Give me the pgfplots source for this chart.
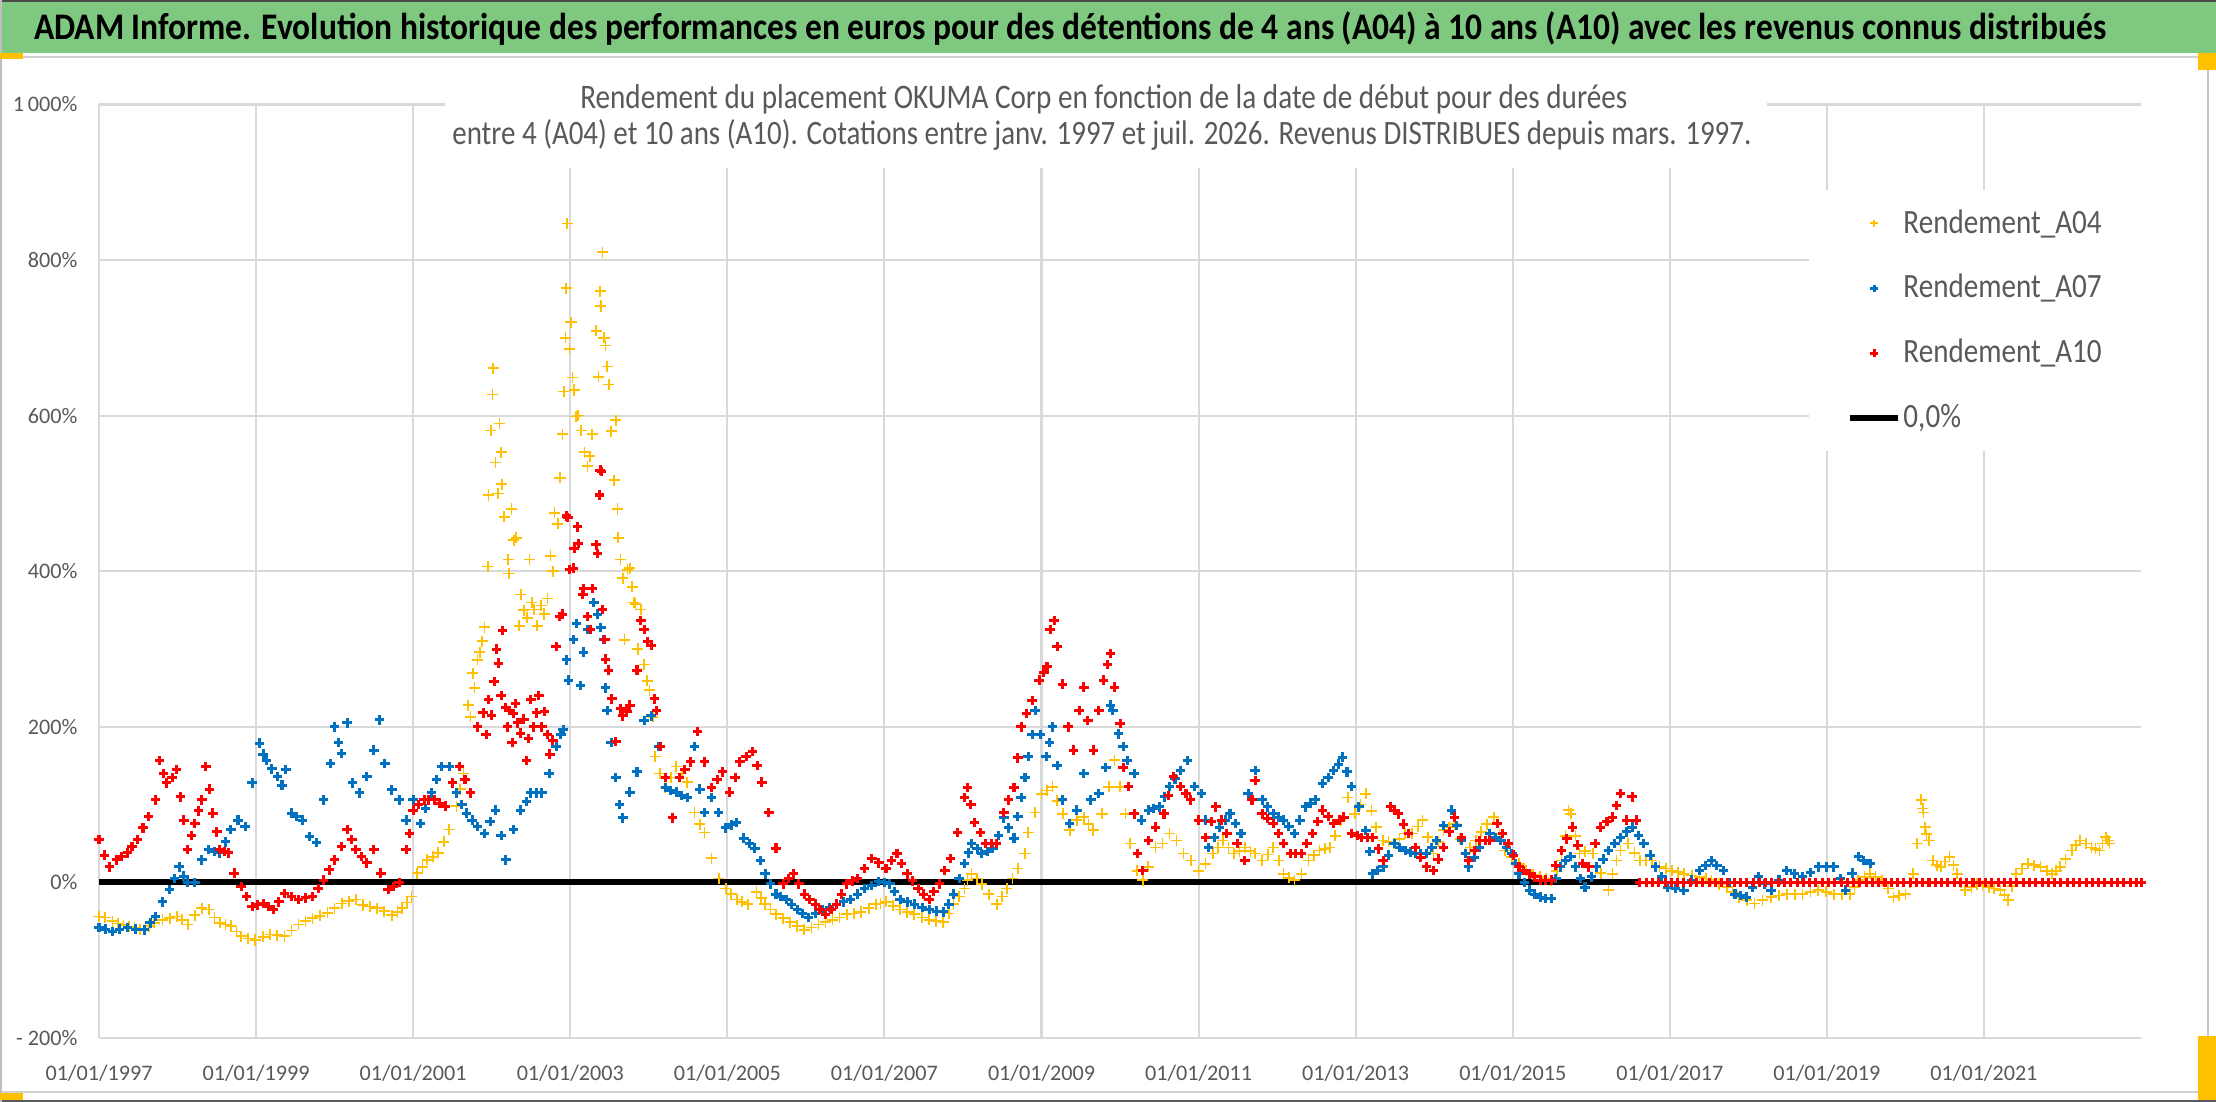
\documentclass[border=0pt]{standalone}
\usepackage{fontspec}
\setmainfont{Carlito}
\usepackage{graphicx}
\usepackage{pgfplots}
\pgfplotsset{compat=1.18}
\definecolor{ay}{HTML}{FFC000}
\definecolor{ab}{HTML}{0070C0}
\definecolor{ar}{HTML}{FF0000}
\definecolor{tg}{HTML}{595959}
\definecolor{gr}{HTML}{D9D9D9}
\definecolor{band}{RGB}{127,200,128}
\begin{document}
\begin{tikzpicture}[x=1pt,y=1pt]
\useasboundingbox (0,0) rectangle (800,397.83);
\fill[white] (0,0) rectangle (800,397.83);
\fill[band] (0,378.7) rectangle (800,397.83);
\draw[gray!60!black, line width=0.6pt] (0,397.5) -- (800,397.5);
\draw[gray!35, line width=0.9pt] (0,377.2) -- (800,377.2);
\draw[gray!45, line width=0.5pt] (797.1,3.6) -- (797.1,377.2);
\draw[gray!35, line width=0.8pt] (0,3.6) -- (800,3.6);
\draw[gray!70!black, line width=0.6pt] (0,0.4) -- (800,0.4);
\draw[gray!50, line width=0.5pt] (0.3,0) -- (0.3,397.8);
\fill[ay] (0,376.6) rectangle (8.3,378.7);
\fill[ay] (0,0.8) rectangle (8.3,3.2);
\fill[ay] (793.5,372.6) rectangle (800,378.7);
\fill[ay] (793.5,0.8) rectangle (800,23.8);
\node[anchor=base, inner sep=0pt] at (386.3,383.4) {\scalebox{1}[1.12]{\resizebox{748pt}{!}{\fontsize{13}{15}\selectfont\bfseries ADAM Informe. Evolution historique des performances en euros pour des détentions de 4 ans (A04) à 10 ans (A10) avec les revenus connus distribués}}};
\begin{axis}[
  at={(35.74pt,23.1pt)}, anchor=south west,
  scale only axis, width=737.2pt, height=337pt,
  xmin=1997, xmax=2023, ymin=-200, ymax=1000,
  axis line style={draw=none},
  xtick={1997,1999,2001,2003,2005,2007,2009,2011,2013,2015,2017,2019,2021},
  xticklabels={01/01/1997,01/01/1999,01/01/2001,01/01/2003,01/01/2005,01/01/2007,01/01/2009,01/01/2011,01/01/2013,01/01/2015,01/01/2017,01/01/2019,01/01/2021},
  ytick={-200,0,200,400,600,800,1000},
  yticklabels={- 200\%,0\%,200\%,400\%,600\%,800\%,1\,000\%},
  major tick length=0pt,
  grid=major,
  major grid style={gr, line width=0.75pt},
  tick label style={font=\fontsize{8}{10}\selectfont, text=tg},
  xticklabel style={anchor=base, inner sep=0pt, yshift=-15.2pt},
  yticklabel style={anchor=east, inner sep=0pt, xshift=-7.6pt},
  legend style={at={(0.8369,0.909)}, anchor=north west, fill=white, draw=none,
    font=\fontsize{10.5}{12}\selectfont, text=tg, inner xsep=14pt, inner ysep=6pt,
    row sep=11.4pt, nodes={inner sep=1pt}},
  legend cell align=left,
  legend image post style={mark size=1.3pt},
]
\addplot[only marks, mark=+, mark size=2.0pt, color=ay, mark options={line width=0.6pt}] coordinates {
(1997.00,-44) (1997.08,-45) (1997.17,-50) (1997.24,-53) (1997.31,-55) (1997.38,-57) (1997.45,-58) (1997.52,-60) (1997.58,-61) (1997.64,-56) (1997.70,-52) (1997.81,-48) (1997.90,-46) (1997.99,-44) (1998.06,-48) (1998.13,-54) (1998.22,-42) (1998.31,-33) (1998.40,-35) (1998.47,-45) (1998.54,-52) (1998.61,-54) (1998.68,-56) (1998.75,-63) (1998.81,-69) (1998.90,-72) (1998.99,-74) (1999.09,-70) (1999.18,-67) (1999.27,-68) (1999.36,-69) (1999.45,-62) (1999.54,-54) (1999.63,-50) (1999.72,-46) (1999.81,-43) (1999.91,-39) (2000.00,-33) (2000.09,-27) (2000.18,-24) (2000.27,-22) (2000.36,-29) (2000.45,-31) (2000.54,-33) (2000.63,-37) (2000.73,-42) (2000.80,-38) (2000.86,-33) (2000.92,-26) (2000.98,-18) (2001.05,12) (2001.12,20) (2001.18,29) (2001.25,33) (2001.32,38) (2001.39,52) (2001.46,68) (2001.55,98) (2001.60,120) (2001.64,140) (2001.70,228) (2001.73,213) (2001.76,269) (2001.78,250) (2001.82,286) (2001.85,296) (2001.88,310) (2001.91,328) (2001.95,406) (2001.96,498) (2001.99,581) (2002.01,627) (2002.02,661) (2002.05,540) (2002.08,500) (2002.10,590) (2002.12,553) (2002.13,512) (2002.16,470) (2002.21,415) (2002.22,397) (2002.25,480) (2002.28,440) (2002.31,443) (2002.35,330) (2002.37,370) (2002.41,350) (2002.45,340) (2002.48,415) (2002.51,360) (2002.54,351) (2002.58,330) (2002.63,356) (2002.67,345) (2002.71,365) (2002.75,420) (2002.78,400) (2002.80,475) (2002.84,461) (2002.87,520) (2002.90,576) (2002.92,631) (2002.94,700) (2002.95,764) (2002.96,847) (2002.99,686) (2003.01,720) (2003.03,649) (2003.05,633) (2003.07,599) (2003.10,600) (2003.14,581) (2003.18,553) (2003.22,535) (2003.25,548) (2003.28,576) (2003.33,709) (2003.36,650) (2003.38,760) (2003.39,741) (2003.41,810) (2003.43,700) (2003.45,690) (2003.47,663) (2003.49,640) (2003.52,580) (2003.56,517) (2003.58,594) (2003.60,480) (2003.61,443) (2003.64,415) (2003.67,391) (2003.69,312) (2003.73,402) (2003.76,404) (2003.79,380) (2003.81,360) (2003.83,358) (2003.86,300) (2003.90,351) (2003.94,280) (2003.98,259) (2004.01,247) (2004.05,213) (2004.08,162) (2004.14,140) (2004.21,122) (2004.28,135) (2004.35,149) (2004.42,140) (2004.49,129) (2004.58,90) (2004.65,75) (2004.71,64) (2004.80,31) (2004.89,5) (2004.98,-8) (2005.05,-15) (2005.12,-22) (2005.19,-25) (2005.26,-28) (2005.37,-12) (2005.43,-20) (2005.48,-28) (2005.55,-35) (2005.62,-41) (2005.71,-46) (2005.80,-51) (2005.89,-56) (2005.98,-61) (2006.07,-58) (2006.16,-54) (2006.25,-51) (2006.34,-48) (2006.43,-45) (2006.52,-41) (2006.61,-40) (2006.70,-38) (2006.80,-33) (2006.89,-28) (2006.95,-27) (2007.02,-25) (2007.11,-30) (2007.20,-35) (2007.29,-38) (2007.38,-41) (2007.48,-45) (2007.57,-48) (2007.66,-50) (2007.75,-51) (2007.82,-40) (2007.88,-28) (2007.95,-18) (2008.02,-8) (2008.06,3) (2008.11,11) (2008.18,5) (2008.24,-2) (2008.33,-15) (2008.43,-28) (2008.50,-18) (2008.56,-8) (2008.63,5) (2008.70,18) (2008.79,37) (2008.83,64) (2008.92,90) (2009.00,114) (2009.07,118) (2009.14,123) (2009.20,105) (2009.27,88) (2009.36,67) (2009.45,80) (2009.54,84) (2009.60,75) (2009.66,67) (2009.77,88) (2009.86,123) (2009.93,157) (2010.00,123) (2010.07,88) (2010.13,50) (2010.22,15) (2010.29,3) (2010.36,20) (2010.45,45) (2010.54,50) (2010.63,63) (2010.72,54) (2010.81,37) (2010.90,28) (2011.00,15) (2011.09,24) (2011.18,37) (2011.25,45) (2011.31,54) (2011.38,45) (2011.45,37) (2011.52,40) (2011.59,45) (2011.66,40) (2011.72,37) (2011.81,28) (2011.88,36) (2011.95,45) (2012.02,28) (2012.08,11) (2012.15,6) (2012.22,3) (2012.31,11) (2012.40,28) (2012.47,35) (2012.54,41) (2012.61,43) (2012.67,45) (2012.74,60) (2012.81,80) (2012.90,109) (2012.99,88) (2013.06,100) (2013.13,114) (2013.20,92) (2013.26,71) (2013.35,54) (2013.42,52) (2013.49,50) (2013.56,56) (2013.63,63) (2013.72,63) (2013.79,72) (2013.85,80) (2013.92,58) (2013.99,37) (2014.05,52) (2014.12,67) (2014.19,71) (2014.26,75) (2014.33,56) (2014.40,37) (2014.46,45) (2014.53,54) (2014.60,65) (2014.67,75) (2014.76,84) (2014.83,62) (2014.90,41) (2014.99,33) (2015.08,24) (2015.17,15) (2015.26,10) (2015.35,7) (2015.42,5) (2015.49,3) (2015.56,15) (2015.62,28) (2015.67,60) (2015.71,93) (2015.74,88) (2015.80,60) (2015.85,37) (2015.92,40) (2016.02,37) (2016.12,12) (2016.22,-10) (2016.27,11) (2016.32,28) (2016.37,41) (2016.47,50) (2016.55,38) (2016.62,28) (2016.70,28) (2016.77,28) (2016.87,20) (2016.95,18) (2017.03,15) (2017.10,13) (2017.18,11) (2017.28,9) (2017.38,7) (2017.46,5) (2017.53,3) (2017.63,-2) (2017.73,-6) (2017.80,-12) (2017.88,-19) (2017.98,-23) (2018.08,-27) (2018.18,-23) (2018.29,-19) (2018.39,-17) (2018.49,-15) (2018.59,-15) (2018.69,-15) (2018.79,-12) (2018.89,-10) (2018.99,-12) (2019.09,-15) (2019.19,-15) (2019.29,-15) (2019.35,-6) (2019.40,3) (2019.48,7) (2019.55,11) (2019.62,7) (2019.70,3) (2019.78,-8) (2019.85,-19) (2019.92,-17) (2020.00,-15) (2020.06,0) (2020.10,11) (2020.15,50) (2020.20,106) (2020.22,95) (2020.23,90) (2020.25,71) (2020.27,62) (2020.30,54) (2020.35,28) (2020.40,22) (2020.45,20) (2020.50,27) (2020.56,33) (2020.61,22) (2020.66,11) (2020.71,0) (2020.76,-10) (2020.84,-6) (2020.91,-2) (2020.98,-4) (2021.06,-6) (2021.13,-8) (2021.21,-10) (2021.26,-16) (2021.31,-23) (2021.36,-5) (2021.41,11) (2021.48,18) (2021.56,24) (2021.64,22) (2021.72,20) (2021.80,15) (2021.87,11) (2021.92,15) (2021.97,20) (2022.04,30) (2022.12,41) (2022.17,48) (2022.22,54) (2022.30,50) (2022.37,45) (2022.42,43) (2022.47,41) (2022.51,50) (2022.55,58) (2022.58,54) (2022.60,50)
};
\addlegendentry{\scalebox{1}[1.17]{Rendement\_A04}}
\addplot[only marks, mark=+, mark size=1.7pt, color=ab, mark options={line width=1.1pt}] coordinates {
(1997.00,-58) (1997.08,-60) (1997.17,-63) (1997.26,-60) (1997.36,-58) (1997.47,-60) (1997.58,-61) (1997.65,-52) (1997.72,-44) (1997.81,-25) (1997.90,-9) (1997.96,5) (1998.02,20) (1998.08,8) (1998.13,0) (1998.22,0) (1998.31,29) (1998.40,42) (1998.47,40) (1998.54,38) (1998.61,52) (1998.68,68) (1998.77,80) (1998.86,72) (1998.95,128) (1999.04,179) (1999.09,165) (1999.13,157) (1999.20,146) (1999.27,136) (1999.33,125) (1999.38,145) (1999.45,89) (1999.52,85) (1999.59,80) (1999.68,59) (1999.77,51) (1999.86,106) (1999.95,153) (2000.00,200) (2000.05,180) (2000.09,166) (2000.16,205) (2000.23,128) (2000.32,115) (2000.41,136) (2000.50,170) (2000.57,209) (2000.64,153) (2000.73,119) (2000.82,106) (2000.91,80) (2001.00,106) (2001.09,76) (2001.16,95) (2001.23,115) (2001.30,132) (2001.36,149) (2001.46,149) (2001.55,115) (2001.62,100) (2001.68,89) (2001.75,80) (2001.82,72) (2001.91,63) (2001.98,78) (2002.05,93) (2002.12,60) (2002.18,29) (2002.28,68) (2002.37,93) (2002.44,104) (2002.50,115) (2002.57,115) (2002.64,115) (2002.73,140) (2002.82,175) (2002.88,190) (2002.91,196) (2002.95,286) (2002.98,260) (2003.04,312) (2003.08,333) (2003.13,253) (2003.17,296) (2003.22,325) (2003.30,360) (2003.35,345) (2003.39,328) (2003.42,312) (2003.45,250) (2003.47,221) (2003.52,180) (2003.58,135) (2003.63,100) (2003.67,83) (2003.76,116) (2003.85,142) (2003.94,208) (2004.03,214) (2004.12,175) (2004.21,122) (2004.28,118) (2004.35,116) (2004.42,112) (2004.49,109) (2004.58,175) (2004.65,120) (2004.71,90) (2004.80,109) (2004.89,90) (2004.98,70) (2005.05,74) (2005.12,77) (2005.21,57) (2005.28,50) (2005.35,44) (2005.42,28) (2005.48,11) (2005.55,-2) (2005.62,-15) (2005.68,-18) (2005.75,-22) (2005.82,-28) (2005.89,-35) (2005.96,-40) (2006.03,-45) (2006.12,-40) (2006.21,-35) (2006.30,-32) (2006.39,-28) (2006.48,-25) (2006.57,-22) (2006.66,-15) (2006.75,-8) (2006.84,-4) (2006.93,1) (2007.00,0) (2007.07,-2) (2007.13,-12) (2007.20,-22) (2007.29,-25) (2007.38,-28) (2007.48,-32) (2007.57,-35) (2007.66,-37) (2007.75,-38) (2007.82,-28) (2007.88,-15) (2007.95,5) (2008.02,24) (2008.07,38) (2008.11,50) (2008.18,43) (2008.24,37) (2008.31,40) (2008.38,44) (2008.45,60) (2008.52,83) (2008.58,70) (2008.65,57) (2008.70,85) (2008.74,109) (2008.79,135) (2008.83,162) (2008.88,190) (2008.92,221) (2008.99,190) (2009.06,162) (2009.10,180) (2009.14,200) (2009.20,150) (2009.27,106) (2009.36,76) (2009.45,93) (2009.54,140) (2009.63,106) (2009.73,114) (2009.82,148) (2009.88,228) (2009.91,221) (2009.98,191) (2010.04,175) (2010.09,157) (2010.18,140) (2010.27,80) (2010.36,93) (2010.43,95) (2010.50,97) (2010.57,110) (2010.63,123) (2010.70,133) (2010.77,144) (2010.86,157) (2010.95,123) (2011.04,114) (2011.09,80) (2011.13,45) (2011.20,58) (2011.27,71) (2011.34,80) (2011.40,88) (2011.47,76) (2011.54,63) (2011.63,114) (2011.72,144) (2011.81,106) (2011.88,97) (2011.95,88) (2012.02,84) (2012.08,80) (2012.15,72) (2012.22,63) (2012.29,80) (2012.36,97) (2012.43,102) (2012.49,106) (2012.58,127) (2012.65,135) (2012.72,144) (2012.78,152) (2012.83,161) (2012.89,142) (2012.95,123) (2013.04,97) (2013.13,67) (2013.18,40) (2013.22,11) (2013.28,15) (2013.35,20) (2013.42,35) (2013.49,50) (2013.56,45) (2013.63,41) (2013.70,39) (2013.76,37) (2013.83,37) (2013.90,37) (2013.97,45) (2014.03,54) (2014.12,73) (2014.22,93) (2014.29,73) (2014.35,54) (2014.40,37) (2014.44,20) (2014.51,32) (2014.58,45) (2014.65,54) (2014.71,63) (2014.78,58) (2014.85,54) (2014.92,45) (2014.99,37) (2015.04,24) (2015.08,11) (2015.15,0) (2015.21,-10) (2015.28,-15) (2015.35,-19) (2015.42,-21) (2015.49,-21) (2015.55,5) (2015.61,20) (2015.67,28) (2015.74,33) (2015.80,20) (2015.86,5) (2015.92,-6) (2016.00,7) (2016.07,20) (2016.15,30) (2016.22,41) (2016.30,50) (2016.37,58) (2016.45,65) (2016.52,71) (2016.60,60) (2016.67,50) (2016.75,35) (2016.82,20) (2016.90,7) (2016.97,-6) (2017.07,-8) (2017.18,-10) (2017.28,3) (2017.38,15) (2017.46,22) (2017.53,28) (2017.60,22) (2017.68,15) (2017.76,0) (2017.83,-15) (2017.90,-17) (2017.98,-19) (2018.05,-6) (2018.13,7) (2018.21,-2) (2018.29,-10) (2018.39,3) (2018.49,15) (2018.59,11) (2018.69,7) (2018.79,13) (2018.89,20) (2018.99,20) (2019.09,20) (2019.17,5) (2019.24,-10) (2019.32,12) (2019.40,33) (2019.47,28) (2019.55,24)
};
\addlegendentry{\scalebox{1}[1.17]{Rendement\_A07}}
\addplot[only marks, mark=+, mark size=1.7pt, color=ar, mark options={line width=1.1pt}] coordinates {
(1997.00,55) (1997.07,35) (1997.13,20) (1997.22,29) (1997.29,33) (1997.36,38) (1997.42,46) (1997.49,55) (1997.56,70) (1997.63,85) (1997.72,106) (1997.77,157) (1997.82,140) (1997.86,128) (1997.93,135) (1997.99,145) (1998.04,110) (1998.08,80) (1998.13,42) (1998.18,60) (1998.22,76) (1998.27,92) (1998.31,106) (1998.36,149) (1998.41,120) (1998.45,89) (1998.50,65) (1998.54,42) (1998.60,40) (1998.65,38) (1998.72,12) (1998.81,-5) (1998.88,-18) (1998.95,-31) (1999.02,-29) (1999.09,-27) (1999.16,-31) (1999.22,-35) (1999.29,-25) (1999.36,-14) (1999.45,-18) (1999.54,-22) (1999.63,-20) (1999.72,-18) (1999.79,-8) (1999.86,3) (1999.93,16) (2000.00,29) (2000.09,46) (2000.16,68) (2000.22,55) (2000.27,42) (2000.34,33) (2000.41,25) (2000.50,42) (2000.59,12) (2000.68,-9) (2000.75,-5) (2000.82,0) (2000.91,42) (2000.95,63) (2001.00,93) (2001.07,100) (2001.14,106) (2001.20,106) (2001.27,106) (2001.34,102) (2001.41,98) (2001.50,128) (2001.59,149) (2001.66,132) (2001.73,115) (2001.82,200) (2001.89,218) (2001.93,190) (2001.96,235) (2002.00,215) (2002.03,258) (2002.06,300) (2002.09,282) (2002.12,240) (2002.14,324) (2002.18,225) (2002.20,200) (2002.23,221) (2002.26,180) (2002.28,217) (2002.30,230) (2002.33,205) (2002.37,192) (2002.41,210) (2002.44,157) (2002.47,185) (2002.50,235) (2002.53,200) (2002.57,218) (2002.60,240) (2002.64,200) (2002.67,220) (2002.71,190) (2002.74,165) (2002.78,183) (2002.82,303) (2002.86,342) (2002.90,345) (2002.95,471) (2002.97,469) (2002.99,402) (2003.04,404) (2003.05,429) (2003.09,457) (2003.10,436) (2003.16,370) (2003.17,378) (2003.22,342) (2003.26,325) (2003.28,378) (2003.33,434) (2003.35,423) (2003.37,498) (2003.38,530) (2003.40,528) (2003.41,351) (2003.44,312) (2003.45,287) (2003.49,273) (2003.53,236) (2003.58,181) (2003.64,223) (2003.67,214) (2003.72,220) (2003.76,228) (2003.85,273) (2003.90,337) (2003.94,325) (2003.98,310) (2004.03,305) (2004.07,236) (2004.10,221) (2004.15,175) (2004.21,135) (2004.30,83) (2004.39,135) (2004.46,145) (2004.53,155) (2004.62,194) (2004.71,155) (2004.80,122) (2004.87,132) (2004.94,142) (2005.03,116) (2005.10,135) (2005.16,155) (2005.24,162) (2005.32,168) (2005.38,150) (2005.44,129) (2005.53,90) (2005.62,44) (2005.71,-2) (2005.78,5) (2005.84,11) (2005.91,-2) (2005.98,-15) (2006.05,-22) (2006.12,-28) (2006.18,-35) (2006.25,-41) (2006.32,-35) (2006.39,-28) (2006.45,-15) (2006.52,-2) (2006.59,2) (2006.66,5) (2006.75,18) (2006.84,31) (2006.93,25) (2007.02,18) (2007.09,28) (2007.16,37) (2007.22,24) (2007.29,11) (2007.36,2) (2007.43,-8) (2007.50,-15) (2007.57,-22) (2007.63,-12) (2007.70,-2) (2007.77,15) (2007.84,31) (2007.93,64) (2008.02,109) (2008.06,122) (2008.10,100) (2008.15,77) (2008.22,64) (2008.29,50) (2008.36,50) (2008.43,50) (2008.52,90) (2008.58,106) (2008.65,122) (2008.70,160) (2008.74,200) (2008.81,217) (2008.88,234) (2008.97,260) (2009.03,270) (2009.07,277) (2009.11,325) (2009.16,337) (2009.20,303) (2009.27,255) (2009.34,200) (2009.41,170) (2009.48,221) (2009.54,251) (2009.59,208) (2009.66,170) (2009.73,221) (2009.79,260) (2009.84,280) (2009.88,294) (2009.93,251) (2010.00,204) (2010.04,148) (2010.11,123) (2010.18,88) (2010.22,37) (2010.29,15) (2010.36,54) (2010.45,71) (2010.56,88) (2010.62,112) (2010.68,136) (2010.77,123) (2010.84,114) (2010.90,106) (2011.00,80) (2011.09,58) (2011.16,78) (2011.22,97) (2011.29,80) (2011.36,63) (2011.49,50) (2011.59,28) (2011.68,106) (2011.72,131) (2011.81,88) (2011.88,82) (2011.95,76) (2012.02,63) (2012.08,50) (2012.17,37) (2012.24,37) (2012.31,37) (2012.38,50) (2012.45,63) (2012.52,78) (2012.58,93) (2012.65,85) (2012.72,76) (2012.79,80) (2012.85,84) (2012.95,63) (2013.02,60) (2013.08,58) (2013.15,58) (2013.22,58) (2013.29,43) (2013.35,28) (2013.44,97) (2013.49,93) (2013.54,88) (2013.61,75) (2013.67,63) (2013.76,45) (2013.83,32) (2013.90,20) (2013.99,15) (2014.05,30) (2014.12,45) (2014.19,65) (2014.26,84) (2014.35,58) (2014.44,28) (2014.51,41) (2014.58,54) (2014.65,54) (2014.71,54) (2014.80,76) (2014.87,63) (2014.94,50) (2015.01,35) (2015.08,20) (2015.14,15) (2015.21,11) (2015.28,7) (2015.35,3) (2015.42,3) (2015.49,3) (2015.55,22) (2015.62,41) (2015.69,56) (2015.76,71) (2015.83,48) (2015.89,24) (2015.97,20) (2016.05,50) (2016.12,71) (2016.20,78) (2016.27,84) (2016.32,99) (2016.37,114) (2016.45,80) (2016.52,110) (2016.57,80)
(2016.62,0) (2016.70,0) (2016.78,0) (2016.86,0) (2016.94,0) (2017.02,0) (2017.10,0) (2017.18,0) (2017.26,0) (2017.34,0) (2017.42,0) (2017.50,0) (2017.58,0) (2017.66,0) (2017.74,0) (2017.82,0) (2017.90,0) (2017.98,0) (2018.06,0) (2018.14,0) (2018.22,0) (2018.30,0) (2018.38,0) (2018.46,0) (2018.54,0) (2018.62,0) (2018.70,0) (2018.78,0) (2018.86,0) (2018.94,0) (2019.02,0) (2019.10,0) (2019.18,0) (2019.26,0) (2019.34,0) (2019.42,0) (2019.50,0) (2019.58,0) (2019.66,0) (2019.74,0) (2019.82,0) (2019.90,0) (2019.98,0) (2020.06,0) (2020.14,0) (2020.22,0) (2020.30,0) (2020.38,0) (2020.46,0) (2020.54,0) (2020.62,0) (2020.70,0) (2020.78,0) (2020.86,0) (2020.94,0) (2021.02,0) (2021.10,0) (2021.18,0) (2021.26,0) (2021.34,0) (2021.42,0) (2021.50,0) (2021.58,0) (2021.66,0) (2021.74,0) (2021.82,0) (2021.90,0) (2021.98,0) (2022.06,0) (2022.14,0) (2022.22,0) (2022.30,0) (2022.38,0) (2022.46,0) (2022.54,0) (2022.62,0) (2022.70,0) (2022.78,0) (2022.86,0) (2022.94,0) (2023.00,0)
};
\addlegendentry{\scalebox{1}[1.17]{Rendement\_A10}}
\addplot[black, line width=2.2pt, no marks] coordinates {(1997,0) (2016.6,0)};
\addlegendentry{\scalebox{1}[1.17]{0,0\%}}
\end{axis}
\fill[white] (160.6,337.2) rectangle (637.9,369.9);
\node[anchor=base, inner sep=0pt, text=tg] at (398.5,358.8) {\scalebox{1}[1.18]{\resizebox{378pt}{!}{\fontsize{9.6}{12}\selectfont Rendement du placement OKUMA Corp en fonction de la date de début pour des durées}}};
\node[anchor=base, inner sep=0pt, text=tg] at (397.8,345.5) {\scalebox{1}[1.18]{\resizebox{469pt}{!}{\fontsize{9.6}{12}\selectfont entre 4 (A04) et 10 ans (A10). Cotations entre janv. 1997 et juil. 2026. Revenus DISTRIBUES depuis mars. 1997.}}};
\end{tikzpicture}
\end{document}
